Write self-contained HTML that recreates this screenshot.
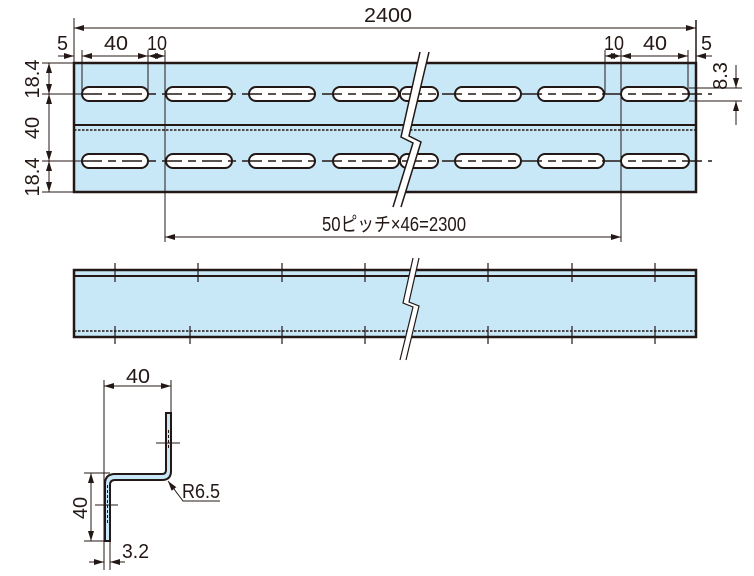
<!DOCTYPE html>
<html><head><meta charset="utf-8"><style>body{margin:0;background:#fff}svg{display:block}text{font-family:"Liberation Sans","Noto Sans CJK JP",sans-serif;font-size:20px;fill:#231815}</style></head><body>
<svg width="754" height="576" viewBox="0 0 754 576" xmlns="http://www.w3.org/2000/svg">
<defs>
<marker id="a" markerWidth="10" markerHeight="6" refX="10" refY="3" orient="auto-start-reverse" markerUnits="userSpaceOnUse"><path d="M0,0L10,3L0,6z" fill="#231815"/></marker>
</defs>
<g stroke="#231815" fill="none">
<rect x="74" y="63" width="622" height="129" fill="#c8e8f8" stroke-width="2.5"/>
<line x1="74" y1="125" x2="696" y2="125" stroke-width="2"/>
<line x1="74" y1="130" x2="696" y2="130" stroke-width="1.5" stroke-dasharray="2.5,1.5"/>
<g stroke-width="2" fill="#fff">
<rect x="82" y="87" width="66" height="14" rx="7"/><rect x="166" y="87" width="66" height="14" rx="7"/><rect x="249" y="87" width="66" height="14" rx="7"/><rect x="333" y="87" width="66" height="14" rx="7"/><rect x="400" y="87" width="38" height="14" rx="7"/><rect x="455" y="87" width="66" height="14" rx="7"/><rect x="538" y="87" width="66" height="14" rx="7"/><rect x="621" y="87" width="68" height="14" rx="7"/>
<rect x="82" y="154" width="66" height="14" rx="7"/><rect x="166" y="154" width="66" height="14" rx="7"/><rect x="249" y="154" width="66" height="14" rx="7"/><rect x="333" y="154" width="66" height="14" rx="7"/><rect x="400" y="154" width="38" height="14" rx="7"/><rect x="455" y="154" width="66" height="14" rx="7"/><rect x="538" y="154" width="66" height="14" rx="7"/><rect x="621" y="154" width="68" height="14" rx="7"/>
</g>
<line x1="82" y1="94" x2="712" y2="94" stroke-width="1.5" stroke-dasharray="20,6,8,6"/>
<line x1="82" y1="161" x2="712" y2="161" stroke-width="1.5" stroke-dasharray="20,6,8,6"/>
<line x1="42" y1="94" x2="82" y2="94"/><line x1="42" y1="161" x2="82" y2="161"/>
<path d="M420,52L401,137L413,143L393,207L401,207L421,142L409,136L429,52z" fill="#fff" stroke="none"/>
<path d="M420,52L401,137L413,143L393,207M429,52L409,136L421,142L401,207" stroke-width="1.5"/>
<line x1="74" y1="18" x2="74" y2="63"/><line x1="696" y1="20" x2="696" y2="63" stroke-width="1.5"/>
<line x1="74" y1="28" x2="696" y2="28" marker-start="url(#a)" marker-end="url(#a)"/>
<line x1="82" y1="50" x2="82" y2="94"/><line x1="148" y1="50" x2="148" y2="94"/><line x1="165" y1="50" x2="165" y2="242"/>
<line x1="58" y1="56" x2="74" y2="56" marker-end="url(#a)"/>
<line x1="82" y1="56" x2="148" y2="56" marker-start="url(#a)" marker-end="url(#a)"/>
<line x1="148" y1="56" x2="165" y2="56" marker-start="url(#a)" marker-end="url(#a)"/>
<line x1="605" y1="50" x2="605" y2="94"/><line x1="621" y1="50" x2="621" y2="242"/><line x1="688" y1="50" x2="688" y2="94"/>
<line x1="605" y1="56" x2="621" y2="56" marker-start="url(#a)" marker-end="url(#a)"/>
<line x1="621" y1="56" x2="688" y2="56" marker-start="url(#a)" marker-end="url(#a)"/>
<line x1="712" y1="56" x2="696" y2="56" marker-end="url(#a)"/>
<line x1="42" y1="63" x2="74" y2="63"/><line x1="42" y1="192" x2="74" y2="192"/>
<line x1="49" y1="63" x2="49" y2="94" marker-start="url(#a)" marker-end="url(#a)"/>
<line x1="49" y1="94" x2="49" y2="161" marker-start="url(#a)" marker-end="url(#a)"/>
<line x1="49" y1="161" x2="49" y2="192" marker-start="url(#a)" marker-end="url(#a)"/>
<line x1="689" y1="88" x2="742" y2="88"/><line x1="689" y1="101" x2="742" y2="101"/>
<line x1="736" y1="65" x2="736" y2="88" marker-end="url(#a)"/>
<line x1="736" y1="125" x2="736" y2="101" marker-end="url(#a)"/>
<line x1="165" y1="237" x2="621" y2="237" marker-start="url(#a)" marker-end="url(#a)"/>
<rect x="74" y="270" width="622" height="67" fill="#c8e8f8" stroke-width="2.5"/>
<line x1="74" y1="276" x2="696" y2="276" stroke-width="2"/>
<line x1="74" y1="331" x2="696" y2="331" stroke-width="1.5" stroke-dasharray="2.5,1.5"/>
<g stroke-width="1.2">
<path d="M115,263V282M198,263V282M282,263V282M365,263V282M488,263V282M572,263V282M655,263V282"/>
<path d="M115,326V344M190,326V344M282,326V344M365,326V344M488,326V344M572,326V344M655,326V344"/>
</g>
<path d="M413,258L403,303L413,307L400,360L406,360L419,306L409,302L419,258z" fill="#fff" stroke="none"/>
<path d="M413,258L403,303L413,307L400,360M419,258L409,302L419,306L406,360" stroke-width="1.2"/>
<path d="M166,413h5v58q0,9-9,9h-47q-5,0-5,5v56h-5v-57q0-10,10-10h47q4,0,4-4z" fill="#c8e8f8" stroke-width="2"/>
<path d="M168.5,430v20M107.5,485v40" stroke-width="1" stroke-dasharray="3,2"/>
<line x1="156" y1="443" x2="180" y2="443"/><line x1="95" y1="505" x2="118" y2="505"/>
<line x1="104" y1="380" x2="104" y2="570"/><line x1="171" y1="380" x2="171" y2="413"/><line x1="110" y1="541" x2="110" y2="570"/>
<line x1="104" y1="386" x2="171" y2="386" marker-start="url(#a)" marker-end="url(#a)"/>
<line x1="84" y1="473" x2="110" y2="473"/><line x1="84" y1="541" x2="105" y2="541"/>
<line x1="91" y1="473" x2="91" y2="541" marker-start="url(#a)" marker-end="url(#a)"/>
<line x1="89" y1="562" x2="104" y2="562" marker-end="url(#a)"/>
<line x1="125" y1="562" x2="110" y2="562" marker-end="url(#a)"/>
<path d="M220,501H183L168,481" marker-end="url(#a)"/>
</g>
<text x="364" y="22" textLength="48" lengthAdjust="spacingAndGlyphs">2400</text>
<text x="57" y="50" textLength="11" lengthAdjust="spacingAndGlyphs">5</text>
<text x="104" y="50" textLength="24" lengthAdjust="spacingAndGlyphs">40</text>
<text x="147" y="50" textLength="20" lengthAdjust="spacingAndGlyphs">10</text>
<text x="604" y="50" textLength="20" lengthAdjust="spacingAndGlyphs">10</text>
<text x="643" y="50" textLength="24" lengthAdjust="spacingAndGlyphs">40</text>
<text x="701" y="50" textLength="11" lengthAdjust="spacingAndGlyphs">5</text>
<text transform="translate(39,79) rotate(-90)" text-anchor="middle">18.4</text>
<text transform="translate(39,128) rotate(-90)" text-anchor="middle">40</text>
<text transform="translate(39,177) rotate(-90)" text-anchor="middle">18.4</text>
<text transform="translate(727,76) rotate(-90)" text-anchor="middle">8.3</text>
<text x="322" y="231" textLength="144" lengthAdjust="spacingAndGlyphs">50ピッチ×46=2300</text>
<text x="126" y="383" textLength="24" lengthAdjust="spacingAndGlyphs">40</text>
<text transform="translate(87,508) rotate(-90)" text-anchor="middle">40</text>
<text x="122" y="558" textLength="27" lengthAdjust="spacingAndGlyphs">3.2</text>
<text x="182" y="498" textLength="38" lengthAdjust="spacingAndGlyphs">R6.5</text>
</svg>
</body></html>
